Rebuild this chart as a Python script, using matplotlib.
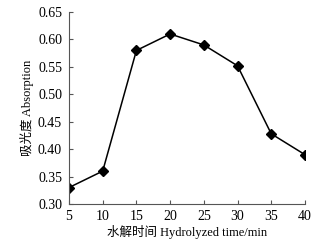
import numpy as np
import matplotlib.pyplot as plt

plt.rcParams['font.family'] = ['Liberation Serif', 'Noto Sans CJK SC']

time_min = [5, 10, 15, 20, 25, 30, 35, 40]
absorption = [0.33, 0.36, 0.58, 0.61, 0.59, 0.552, 0.428, 0.39]

fig = plt.figure(figsize=(3.34, 2.41), dpi=100)
ax = fig.add_axes([0.2066, 0.1535, 0.7064, 0.7965])

ax.plot(time_min, absorption, color='black', linewidth=1.1,
        marker='D', markersize=5.5, markerfacecolor='black', markeredgecolor='black')

ax.set_xlim(5, 40)
ax.set_ylim(0.30, 0.65)
ax.set_xticks(np.arange(5, 41, 5))
ax.set_yticks(np.arange(0.30, 0.651, 0.05))
ax.set_yticklabels([f'{v:.2f}' for v in np.arange(0.30, 0.651, 0.05)])

for s in ['top', 'right']:
    ax.spines[s].set_visible(False)
for s in ['left', 'bottom']:
    ax.spines[s].set_color('#555555')
    ax.spines[s].set_linewidth(0.8)

ax.tick_params(direction='in', length=3, width=0.8, color='#555555', labelsize=10)
ax.tick_params(axis='y', pad=5)
ax.tick_params(axis='x', pad=4)

ax.set_xlabel('水解时间 Hydrolyzed time/min', fontsize=9, labelpad=2)
ax.set_ylabel('吸光度 Absorption', fontsize=9, labelpad=3)

fig.savefig('out.png', dpi=100)
